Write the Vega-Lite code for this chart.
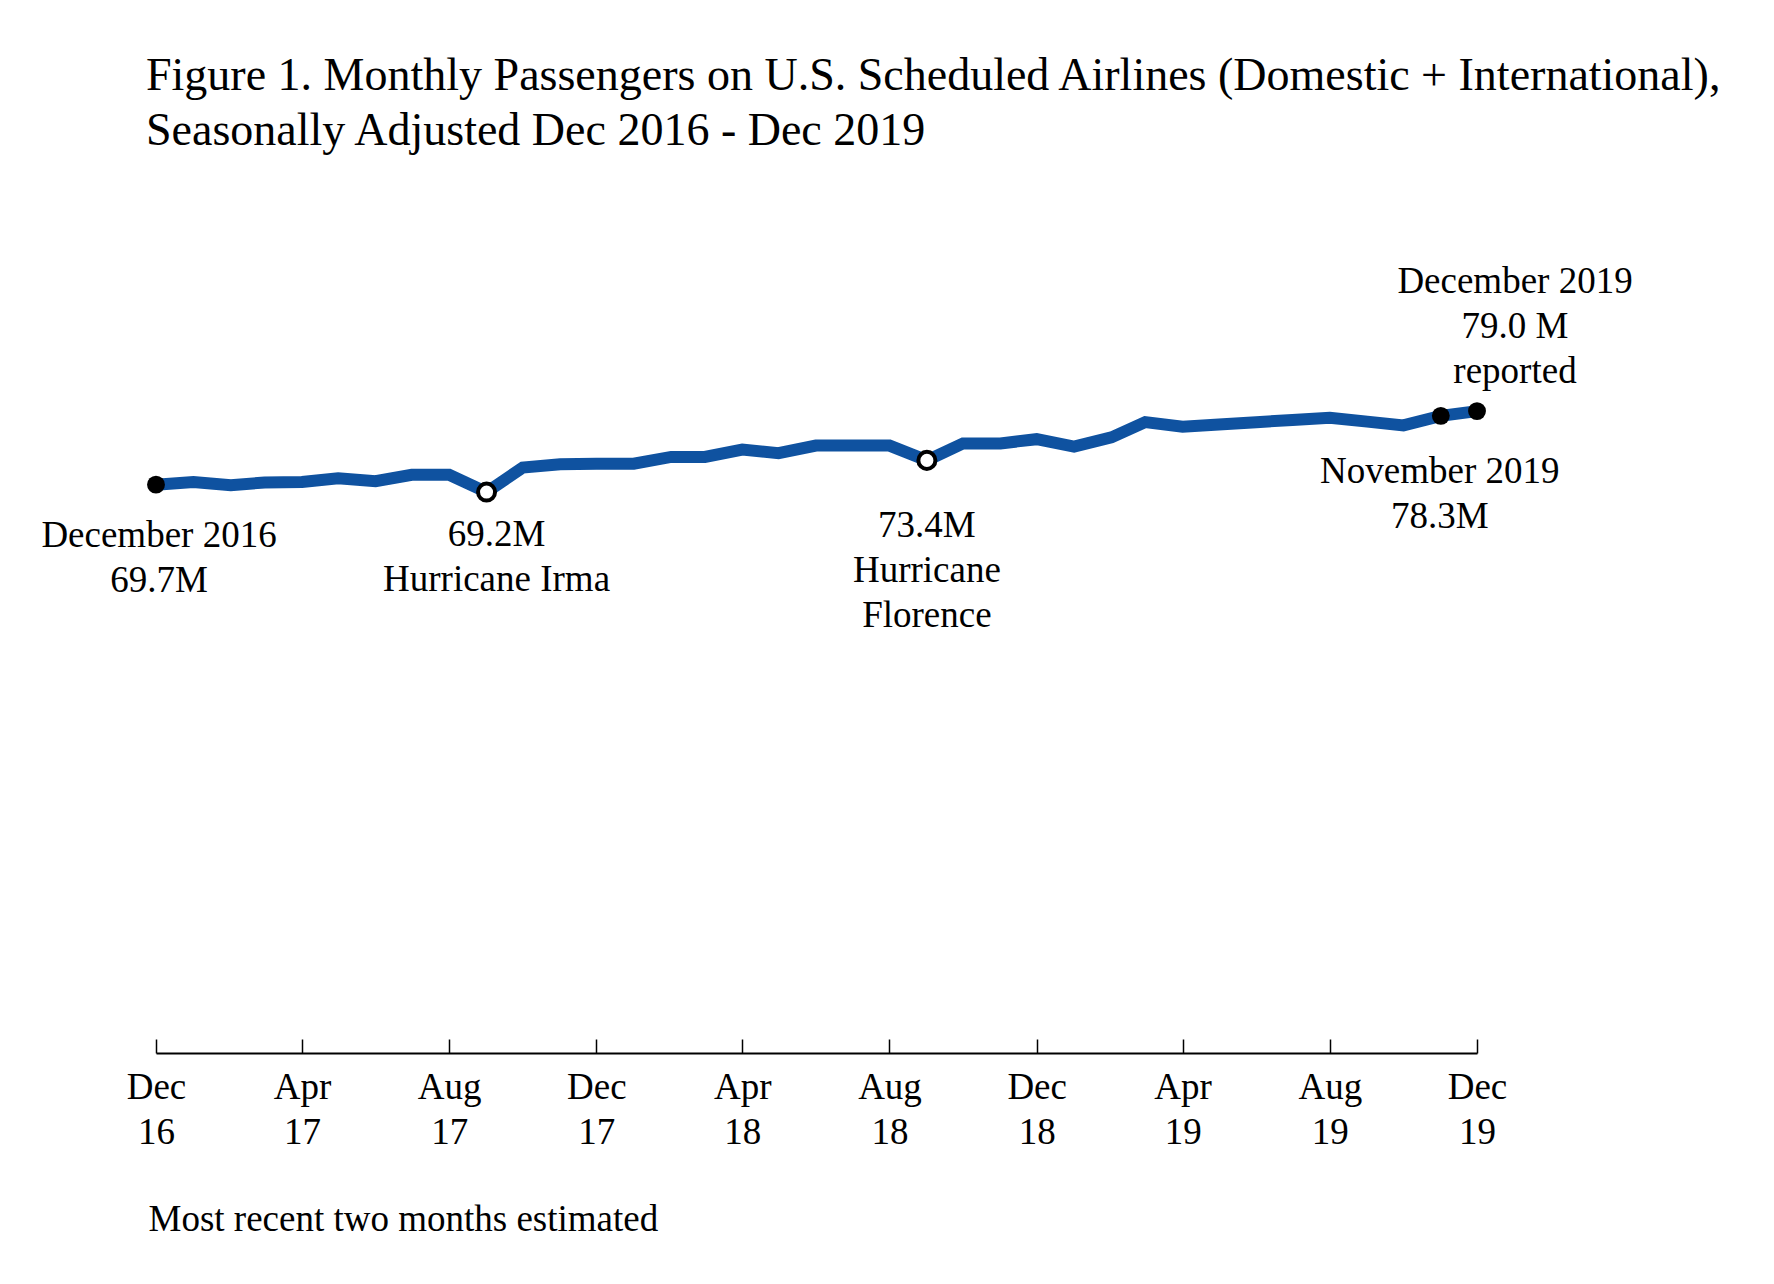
{
  "$schema": "https://vega.github.io/schema/vega-lite/v6.json",
  "autosize": {"type": "none"},
  "padding": {"left": 156, "top": 245, "right": 297, "bottom": 248},
  "width": 1321,
  "height": 791,
  "background": "white",
  "config": {"view": {"stroke": null}, "font": "Liberation Serif"},
  "title": {
    "text": ["Figure 1. Monthly Passengers on U.S. Scheduled Airlines (Domestic + International),", "Seasonally Adjusted Dec 2016 - Dec 2019"],
    "anchor": "start",
    "frame": "group",
    "font": "Liberation Serif",
    "fontSize": 46,
    "fontWeight": "normal",
    "color": "black",
    "lineHeight": 55,
    "offset": 90,
    "dx": -10
  },
  "data": {
    "values": [
      {"month": "2016-12-01", "passengers": 69.70, "event": "start", "label": "December 2016\n69.7M"},
      {"month": "2017-01-01", "passengers": 70.05, "event": "", "label": ""},
      {"month": "2017-02-01", "passengers": 69.64, "event": "", "label": ""},
      {"month": "2017-03-01", "passengers": 69.97, "event": "", "label": ""},
      {"month": "2017-04-01", "passengers": 70.03, "event": "", "label": ""},
      {"month": "2017-05-01", "passengers": 70.52, "event": "", "label": ""},
      {"month": "2017-06-01", "passengers": 70.14, "event": "", "label": ""},
      {"month": "2017-07-01", "passengers": 70.94, "event": "", "label": ""},
      {"month": "2017-08-01", "passengers": 70.94, "event": "", "label": ""},
      {"month": "2017-09-01", "passengers": 68.76, "event": "hurricane", "label": "69.2M\nHurricane Irma"},
      {"month": "2017-10-01", "passengers": 71.86, "event": "", "label": ""},
      {"month": "2017-11-01", "passengers": 72.29, "event": "", "label": ""},
      {"month": "2017-12-01", "passengers": 72.33, "event": "", "label": ""},
      {"month": "2018-01-01", "passengers": 72.35, "event": "", "label": ""},
      {"month": "2018-02-01", "passengers": 73.21, "event": "", "label": ""},
      {"month": "2018-03-01", "passengers": 73.21, "event": "", "label": ""},
      {"month": "2018-04-01", "passengers": 74.14, "event": "", "label": ""},
      {"month": "2018-05-01", "passengers": 73.68, "event": "", "label": ""},
      {"month": "2018-06-01", "passengers": 74.64, "event": "", "label": ""},
      {"month": "2018-07-01", "passengers": 74.64, "event": "", "label": ""},
      {"month": "2018-08-01", "passengers": 74.64, "event": "", "label": ""},
      {"month": "2018-09-01", "passengers": 72.77, "event": "hurricane", "label": "73.4M\nHurricane\nFlorence"},
      {"month": "2018-10-01", "passengers": 74.92, "event": "", "label": ""},
      {"month": "2018-11-01", "passengers": 74.92, "event": "", "label": ""},
      {"month": "2018-12-01", "passengers": 75.45, "event": "", "label": ""},
      {"month": "2019-01-01", "passengers": 74.51, "event": "", "label": ""},
      {"month": "2019-02-01", "passengers": 75.68, "event": "", "label": ""},
      {"month": "2019-03-01", "passengers": 77.61, "event": "", "label": ""},
      {"month": "2019-04-01", "passengers": 77.03, "event": "", "label": ""},
      {"month": "2019-05-01", "passengers": 77.31, "event": "", "label": ""},
      {"month": "2019-06-01", "passengers": 77.60, "event": "", "label": ""},
      {"month": "2019-07-01", "passengers": 77.88, "event": "", "label": ""},
      {"month": "2019-08-01", "passengers": 78.17, "event": "", "label": ""},
      {"month": "2019-09-01", "passengers": 77.67, "event": "", "label": ""},
      {"month": "2019-10-01", "passengers": 77.19, "event": "", "label": ""},
      {"month": "2019-11-01", "passengers": 78.40, "event": "estimated", "label": "November 2019\n78.3M"},
      {"month": "2019-12-01", "passengers": 79.00, "event": "estimated", "label": "December 2019\n79.0 M\nreported"}
    ]
  },
  "encoding": {
    "x": {
      "field": "month",
      "type": "temporal",
      "scale": {"type": "utc", "nice": false},
      "axis": {
        "values": [
          {"year": 2016, "month": 12, "date": 1, "utc": true},
          {"year": 2017, "month": 4, "date": 1, "utc": true},
          {"year": 2017, "month": 8, "date": 1, "utc": true},
          {"year": 2017, "month": 12, "date": 1, "utc": true},
          {"year": 2018, "month": 4, "date": 1, "utc": true},
          {"year": 2018, "month": 8, "date": 1, "utc": true},
          {"year": 2018, "month": 12, "date": 1, "utc": true},
          {"year": 2019, "month": 4, "date": 1, "utc": true},
          {"year": 2019, "month": 8, "date": 1, "utc": true},
          {"year": 2019, "month": 12, "date": 1, "utc": true}
        ],
        "labelExpr": "[utcFormat(datum.value, '%b'), utcFormat(datum.value, '%y')]",
        "offset": 17,
        "grid": false,
        "domainColor": "black",
        "domainWidth": 2,
        "tickColor": "black",
        "tickWidth": 1.5,
        "tickSize": -14,
        "labelFont": "Liberation Serif",
        "labelFontSize": 37,
        "labelColor": "black",
        "labelBaseline": "alphabetic",
        "labelLineHeight": 45,
        "labelPadding": 59,
        "labelFlush": false,
        "labelOverlap": false,
        "labelBound": false,
        "title": "Most recent two months estimated",
        "titleFont": "Liberation Serif",
        "titleFontSize": 37,
        "titleFontWeight": "normal",
        "titleColor": "black",
        "titleAlign": "left",
        "titleAnchor": "start",
        "titleBaseline": "alphabetic",
        "titleX": -8,
        "titleY": 177
      }
    },
    "y": {
      "field": "passengers",
      "type": "quantitative",
      "scale": {"domain": [0, 100], "nice": false, "zero": true},
      "axis": null
    }
  },
  "layer": [
    {"mark": {"type": "line", "color": "#0F52A0", "strokeWidth": 12, "strokeJoin": "miter"}},
    {
      "transform": [{"filter": "datum.event === 'start' || datum.event === 'estimated'"}],
      "mark": {"type": "point", "shape": "circle", "filled": true, "color": "black", "size": 320, "opacity": 1}
    },
    {
      "transform": [{"filter": "datum.event === 'hurricane'"}],
      "mark": {"type": "point", "shape": "circle", "filled": true, "fill": "white", "stroke": "black", "strokeWidth": 4, "size": 290, "opacity": 1}
    },
    {
      "transform": [{"filter": "utcyear(datum.month) === 2016"}],
      "mark": {"type": "text", "font": "Liberation Serif", "fontSize": 37, "color": "black", "align": "center", "baseline": "alphabetic", "lineBreak": "\n", "lineHeight": 45, "dx": 3, "dy": 62},
      "encoding": {"text": {"field": "label"}}
    },
    {
      "transform": [{"filter": "utcyear(datum.month) === 2017 && datum.event === 'hurricane'"}],
      "mark": {"type": "text", "font": "Liberation Serif", "fontSize": 37, "color": "black", "align": "center", "baseline": "alphabetic", "lineBreak": "\n", "lineHeight": 45, "dx": 10, "dy": 54},
      "encoding": {"text": {"field": "label"}}
    },
    {
      "transform": [{"filter": "utcyear(datum.month) === 2018 && datum.event === 'hurricane'"}],
      "mark": {"type": "text", "font": "Liberation Serif", "fontSize": 37, "color": "black", "align": "center", "baseline": "alphabetic", "lineBreak": "\n", "lineHeight": 45, "dx": 0, "dy": 77},
      "encoding": {"text": {"field": "label"}}
    },
    {
      "transform": [{"filter": "utcyear(datum.month) === 2019 && utcmonth(datum.month) === 10"}],
      "mark": {"type": "text", "font": "Liberation Serif", "fontSize": 37, "color": "black", "align": "center", "baseline": "alphabetic", "lineBreak": "\n", "lineHeight": 45, "dx": -1, "dy": 67},
      "encoding": {"text": {"field": "label"}}
    },
    {
      "transform": [{"filter": "utcyear(datum.month) === 2019 && utcmonth(datum.month) === 11"}],
      "mark": {"type": "text", "font": "Liberation Serif", "fontSize": 37, "color": "black", "align": "center", "baseline": "alphabetic", "lineBreak": "\n", "lineHeight": 45, "dx": 38, "dy": -118},
      "encoding": {"text": {"field": "label"}}
    }
  ]
}
